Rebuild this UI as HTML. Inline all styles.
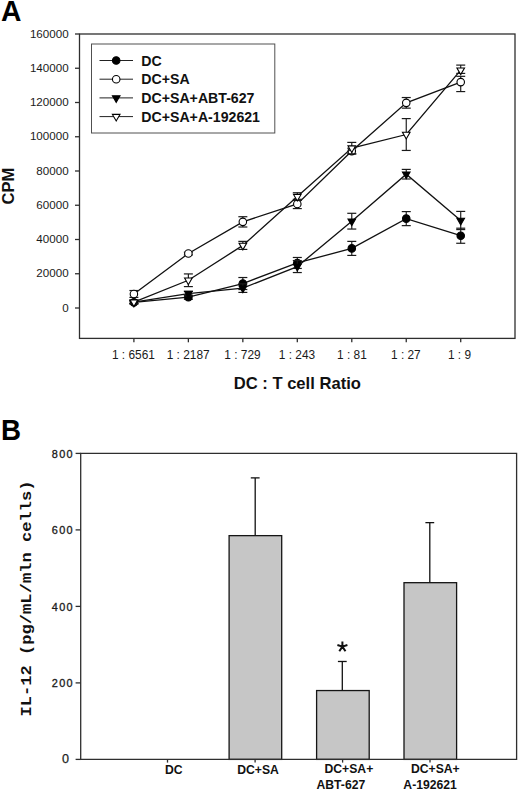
<!DOCTYPE html>
<html><head><meta charset="utf-8"><title>Figure</title>
<style>
html,body{margin:0;padding:0;background:#fff;}
body{width:520px;height:791px;overflow:hidden;}
svg{display:block;}
text{font-family:"Liberation Sans",sans-serif;fill:#111;}
.ta{font-size:11.6px;fill:#1a1a1a;}
.tx{font-size:11.9px;fill:#1a1a1a;}
.lg{font-size:14.15px;font-weight:bold;}
.pl{font-size:28px;font-weight:bold;fill:#000;}
.xt{font-size:16.6px;font-weight:bold;}
.yt{font-size:16.5px;font-weight:bold;}
.bl{font-size:12.2px;font-weight:bold;}
.tm{font-size:10.9px;letter-spacing:1.3px;fill:#1a1a1a;stroke:#1a1a1a;stroke-width:0.3px;}
.my{font-family:"Liberation Mono",monospace;font-size:17.1px;font-weight:bold;}
.t0{font-size:12.6px;fill:#222;stroke:#222;stroke-width:0.25px;}
.as{font-size:28px;font-weight:normal;stroke:#111;stroke-width:0.5px;}
</style></head>
<body>
<svg width="520" height="791" viewBox="0 0 520 791">
<rect width="520" height="791" fill="#fff"/>
<rect x="79.5" y="34.0" width="435.5" height="304.4" fill="none" stroke="#2e2e2e" stroke-width="1.3"/>
<line x1="75" y1="308.00" x2="79.5" y2="308.00" stroke="#2e2e2e" stroke-width="1.3"/>
<text x="68.6" y="311.70" text-anchor="end" class="ta">0</text>
<line x1="75" y1="273.75" x2="79.5" y2="273.75" stroke="#2e2e2e" stroke-width="1.3"/>
<text x="68.6" y="277.45" text-anchor="end" class="ta">20000</text>
<line x1="75" y1="239.50" x2="79.5" y2="239.50" stroke="#2e2e2e" stroke-width="1.3"/>
<text x="68.6" y="243.20" text-anchor="end" class="ta">40000</text>
<line x1="75" y1="205.25" x2="79.5" y2="205.25" stroke="#2e2e2e" stroke-width="1.3"/>
<text x="68.6" y="208.95" text-anchor="end" class="ta">60000</text>
<line x1="75" y1="171.00" x2="79.5" y2="171.00" stroke="#2e2e2e" stroke-width="1.3"/>
<text x="68.6" y="174.70" text-anchor="end" class="ta">80000</text>
<line x1="75" y1="136.75" x2="79.5" y2="136.75" stroke="#2e2e2e" stroke-width="1.3"/>
<text x="68.6" y="140.45" text-anchor="end" class="ta">100000</text>
<line x1="75" y1="102.50" x2="79.5" y2="102.50" stroke="#2e2e2e" stroke-width="1.3"/>
<text x="68.6" y="106.20" text-anchor="end" class="ta">120000</text>
<line x1="75" y1="68.25" x2="79.5" y2="68.25" stroke="#2e2e2e" stroke-width="1.3"/>
<text x="68.6" y="71.95" text-anchor="end" class="ta">140000</text>
<line x1="75" y1="34.00" x2="79.5" y2="34.00" stroke="#2e2e2e" stroke-width="1.3"/>
<text x="68.6" y="37.70" text-anchor="end" class="ta">160000</text>
<line x1="133.90" y1="338.4" x2="133.90" y2="342.3" stroke="#2e2e2e" stroke-width="1.3"/>
<text x="133.40" y="359.4" text-anchor="middle" class="tx">1 : 6561</text>
<line x1="188.37" y1="338.4" x2="188.37" y2="342.3" stroke="#2e2e2e" stroke-width="1.3"/>
<text x="188.17" y="359.4" text-anchor="middle" class="tx">1 : 2187</text>
<line x1="242.84" y1="338.4" x2="242.84" y2="342.3" stroke="#2e2e2e" stroke-width="1.3"/>
<text x="242.44" y="359.4" text-anchor="middle" class="tx">1 : 729</text>
<line x1="297.31" y1="338.4" x2="297.31" y2="342.3" stroke="#2e2e2e" stroke-width="1.3"/>
<text x="297.01" y="359.4" text-anchor="middle" class="tx">1 : 243</text>
<line x1="351.78" y1="338.4" x2="351.78" y2="342.3" stroke="#2e2e2e" stroke-width="1.3"/>
<text x="351.88" y="359.4" text-anchor="middle" class="tx">1 : 81</text>
<line x1="406.25" y1="338.4" x2="406.25" y2="342.3" stroke="#2e2e2e" stroke-width="1.3"/>
<text x="405.85" y="359.4" text-anchor="middle" class="tx">1 : 27</text>
<line x1="460.72" y1="338.4" x2="460.72" y2="342.3" stroke="#2e2e2e" stroke-width="1.3"/>
<text x="459.52" y="359.4" text-anchor="middle" class="tx">1 : 9</text>
<polyline points="133.90,302.35 188.37,297.21 242.84,283.51 297.31,262.96 351.78,248.41 406.25,218.61 460.72,235.73" fill="none" stroke="#111" stroke-width="1.3"/>
<line x1="133.90" y1="300.81" x2="133.90" y2="303.89" stroke="#1a1a1a" stroke-width="1.15"/>
<line x1="129.40" y1="300.81" x2="138.40" y2="300.81" stroke="#1a1a1a" stroke-width="1.2"/>
<line x1="129.40" y1="303.89" x2="138.40" y2="303.89" stroke="#1a1a1a" stroke-width="1.2"/>
<line x1="188.37" y1="295.16" x2="188.37" y2="299.27" stroke="#1a1a1a" stroke-width="1.15"/>
<line x1="183.87" y1="295.16" x2="192.87" y2="295.16" stroke="#1a1a1a" stroke-width="1.2"/>
<line x1="183.87" y1="299.27" x2="192.87" y2="299.27" stroke="#1a1a1a" stroke-width="1.2"/>
<line x1="242.84" y1="277.52" x2="242.84" y2="289.50" stroke="#1a1a1a" stroke-width="1.15"/>
<line x1="238.34" y1="277.52" x2="247.34" y2="277.52" stroke="#1a1a1a" stroke-width="1.2"/>
<line x1="238.34" y1="289.50" x2="247.34" y2="289.50" stroke="#1a1a1a" stroke-width="1.2"/>
<line x1="297.31" y1="257.48" x2="297.31" y2="268.44" stroke="#1a1a1a" stroke-width="1.15"/>
<line x1="292.81" y1="257.48" x2="301.81" y2="257.48" stroke="#1a1a1a" stroke-width="1.2"/>
<line x1="292.81" y1="268.44" x2="301.81" y2="268.44" stroke="#1a1a1a" stroke-width="1.2"/>
<line x1="351.78" y1="241.38" x2="351.78" y2="255.43" stroke="#1a1a1a" stroke-width="1.15"/>
<line x1="347.28" y1="241.38" x2="356.28" y2="241.38" stroke="#1a1a1a" stroke-width="1.2"/>
<line x1="347.28" y1="255.43" x2="356.28" y2="255.43" stroke="#1a1a1a" stroke-width="1.2"/>
<line x1="406.25" y1="211.59" x2="406.25" y2="225.63" stroke="#1a1a1a" stroke-width="1.15"/>
<line x1="401.75" y1="211.59" x2="410.75" y2="211.59" stroke="#1a1a1a" stroke-width="1.2"/>
<line x1="401.75" y1="225.63" x2="410.75" y2="225.63" stroke="#1a1a1a" stroke-width="1.2"/>
<line x1="460.72" y1="228.20" x2="460.72" y2="243.27" stroke="#1a1a1a" stroke-width="1.15"/>
<line x1="456.22" y1="228.20" x2="465.22" y2="228.20" stroke="#1a1a1a" stroke-width="1.2"/>
<line x1="456.22" y1="243.27" x2="465.22" y2="243.27" stroke="#1a1a1a" stroke-width="1.2"/>
<circle cx="133.90" cy="302.35" r="3.75" fill="#000" stroke="#000" stroke-width="1.1"/>
<circle cx="188.37" cy="297.21" r="3.75" fill="#000" stroke="#000" stroke-width="1.1"/>
<circle cx="242.84" cy="283.51" r="3.75" fill="#000" stroke="#000" stroke-width="1.1"/>
<circle cx="297.31" cy="262.96" r="3.75" fill="#000" stroke="#000" stroke-width="1.1"/>
<circle cx="351.78" cy="248.41" r="3.75" fill="#000" stroke="#000" stroke-width="1.1"/>
<circle cx="406.25" cy="218.61" r="3.75" fill="#000" stroke="#000" stroke-width="1.1"/>
<circle cx="460.72" cy="235.73" r="3.75" fill="#000" stroke="#000" stroke-width="1.1"/>
<polyline points="133.90,293.96 188.37,253.54 242.84,221.86 297.31,203.95 351.78,151.10 406.25,102.84 460.72,82.12" fill="none" stroke="#111" stroke-width="1.3"/>
<line x1="133.90" y1="290.53" x2="133.90" y2="297.38" stroke="#1a1a1a" stroke-width="1.15"/>
<line x1="129.40" y1="290.53" x2="138.40" y2="290.53" stroke="#1a1a1a" stroke-width="1.2"/>
<line x1="129.40" y1="297.38" x2="138.40" y2="297.38" stroke="#1a1a1a" stroke-width="1.2"/>
<line x1="188.37" y1="252.17" x2="188.37" y2="254.91" stroke="#1a1a1a" stroke-width="1.15"/>
<line x1="183.87" y1="252.17" x2="192.87" y2="252.17" stroke="#1a1a1a" stroke-width="1.2"/>
<line x1="183.87" y1="254.91" x2="192.87" y2="254.91" stroke="#1a1a1a" stroke-width="1.2"/>
<line x1="242.84" y1="216.72" x2="242.84" y2="227.00" stroke="#1a1a1a" stroke-width="1.15"/>
<line x1="238.34" y1="216.72" x2="247.34" y2="216.72" stroke="#1a1a1a" stroke-width="1.2"/>
<line x1="238.34" y1="227.00" x2="247.34" y2="227.00" stroke="#1a1a1a" stroke-width="1.2"/>
<line x1="297.31" y1="199.32" x2="297.31" y2="208.57" stroke="#1a1a1a" stroke-width="1.15"/>
<line x1="292.81" y1="199.32" x2="301.81" y2="199.32" stroke="#1a1a1a" stroke-width="1.2"/>
<line x1="292.81" y1="208.57" x2="301.81" y2="208.57" stroke="#1a1a1a" stroke-width="1.2"/>
<line x1="351.78" y1="148.19" x2="351.78" y2="154.01" stroke="#1a1a1a" stroke-width="1.15"/>
<line x1="347.28" y1="148.19" x2="356.28" y2="148.19" stroke="#1a1a1a" stroke-width="1.2"/>
<line x1="347.28" y1="154.01" x2="356.28" y2="154.01" stroke="#1a1a1a" stroke-width="1.2"/>
<line x1="406.25" y1="97.53" x2="406.25" y2="108.15" stroke="#1a1a1a" stroke-width="1.15"/>
<line x1="401.75" y1="97.53" x2="410.75" y2="97.53" stroke="#1a1a1a" stroke-width="1.2"/>
<line x1="401.75" y1="108.15" x2="410.75" y2="108.15" stroke="#1a1a1a" stroke-width="1.2"/>
<line x1="460.72" y1="76.32" x2="460.72" y2="91.57" stroke="#1a1a1a" stroke-width="1.15"/>
<line x1="456.22" y1="76.32" x2="465.22" y2="76.32" stroke="#1a1a1a" stroke-width="1.2"/>
<line x1="456.22" y1="91.57" x2="465.22" y2="91.57" stroke="#1a1a1a" stroke-width="1.2"/>
<circle cx="133.90" cy="293.96" r="3.75" fill="#fff" stroke="#000" stroke-width="1.1"/>
<circle cx="188.37" cy="253.54" r="3.75" fill="#fff" stroke="#000" stroke-width="1.1"/>
<circle cx="242.84" cy="221.86" r="3.75" fill="#fff" stroke="#000" stroke-width="1.1"/>
<circle cx="297.31" cy="203.95" r="3.75" fill="#fff" stroke="#000" stroke-width="1.1"/>
<circle cx="351.78" cy="151.10" r="3.75" fill="#fff" stroke="#000" stroke-width="1.1"/>
<circle cx="406.25" cy="102.84" r="3.75" fill="#fff" stroke="#000" stroke-width="1.1"/>
<circle cx="460.72" cy="82.12" r="3.75" fill="#fff" stroke="#000" stroke-width="1.1"/>
<polyline points="133.90,302.18 188.37,293.62 242.84,288.13 297.31,266.56 351.78,221.18 406.25,174.20 460.72,220.49" fill="none" stroke="#111" stroke-width="1.3"/>
<line x1="133.90" y1="300.81" x2="133.90" y2="303.55" stroke="#1a1a1a" stroke-width="1.15"/>
<line x1="129.40" y1="300.81" x2="138.40" y2="300.81" stroke="#1a1a1a" stroke-width="1.2"/>
<line x1="129.40" y1="303.55" x2="138.40" y2="303.55" stroke="#1a1a1a" stroke-width="1.2"/>
<line x1="188.37" y1="291.39" x2="188.37" y2="295.84" stroke="#1a1a1a" stroke-width="1.15"/>
<line x1="183.87" y1="291.39" x2="192.87" y2="291.39" stroke="#1a1a1a" stroke-width="1.2"/>
<line x1="183.87" y1="295.84" x2="192.87" y2="295.84" stroke="#1a1a1a" stroke-width="1.2"/>
<line x1="242.84" y1="283.85" x2="242.84" y2="292.42" stroke="#1a1a1a" stroke-width="1.15"/>
<line x1="238.34" y1="283.85" x2="247.34" y2="283.85" stroke="#1a1a1a" stroke-width="1.2"/>
<line x1="238.34" y1="292.42" x2="247.34" y2="292.42" stroke="#1a1a1a" stroke-width="1.2"/>
<line x1="297.31" y1="260.56" x2="297.31" y2="272.55" stroke="#1a1a1a" stroke-width="1.15"/>
<line x1="292.81" y1="260.56" x2="301.81" y2="260.56" stroke="#1a1a1a" stroke-width="1.2"/>
<line x1="292.81" y1="272.55" x2="301.81" y2="272.55" stroke="#1a1a1a" stroke-width="1.2"/>
<line x1="351.78" y1="213.30" x2="351.78" y2="229.05" stroke="#1a1a1a" stroke-width="1.15"/>
<line x1="347.28" y1="213.30" x2="356.28" y2="213.30" stroke="#1a1a1a" stroke-width="1.2"/>
<line x1="347.28" y1="229.05" x2="356.28" y2="229.05" stroke="#1a1a1a" stroke-width="1.2"/>
<line x1="406.25" y1="169.41" x2="406.25" y2="179.00" stroke="#1a1a1a" stroke-width="1.15"/>
<line x1="401.75" y1="169.41" x2="410.75" y2="169.41" stroke="#1a1a1a" stroke-width="1.2"/>
<line x1="401.75" y1="179.00" x2="410.75" y2="179.00" stroke="#1a1a1a" stroke-width="1.2"/>
<line x1="460.72" y1="211.41" x2="460.72" y2="229.57" stroke="#1a1a1a" stroke-width="1.15"/>
<line x1="456.22" y1="211.41" x2="465.22" y2="211.41" stroke="#1a1a1a" stroke-width="1.2"/>
<line x1="456.22" y1="229.57" x2="465.22" y2="229.57" stroke="#1a1a1a" stroke-width="1.2"/>
<polygon points="130.10,299.98 137.70,299.98 133.90,306.58" fill="#000" stroke="#000" stroke-width="1.1" stroke-linejoin="miter"/>
<polygon points="184.57,291.42 192.17,291.42 188.37,298.01" fill="#000" stroke="#000" stroke-width="1.1" stroke-linejoin="miter"/>
<polygon points="239.04,285.94 246.64,285.94 242.84,292.53" fill="#000" stroke="#000" stroke-width="1.1" stroke-linejoin="miter"/>
<polygon points="293.51,264.36 301.11,264.36 297.31,270.96" fill="#000" stroke="#000" stroke-width="1.1" stroke-linejoin="miter"/>
<polygon points="347.98,218.98 355.58,218.98 351.78,225.58" fill="#000" stroke="#000" stroke-width="1.1" stroke-linejoin="miter"/>
<polygon points="402.45,172.00 410.05,172.00 406.25,178.60" fill="#000" stroke="#000" stroke-width="1.1" stroke-linejoin="miter"/>
<polygon points="456.92,218.29 464.52,218.29 460.72,224.89" fill="#000" stroke="#000" stroke-width="1.1" stroke-linejoin="miter"/>
<polyline points="133.90,302.18 188.37,280.26 242.84,245.41 297.31,196.60 351.78,148.10 406.25,134.52 460.72,70.20" fill="none" stroke="#111" stroke-width="1.3"/>
<line x1="133.90" y1="300.64" x2="133.90" y2="303.72" stroke="#1a1a1a" stroke-width="1.15"/>
<line x1="129.40" y1="300.64" x2="138.40" y2="300.64" stroke="#1a1a1a" stroke-width="1.2"/>
<line x1="129.40" y1="303.72" x2="138.40" y2="303.72" stroke="#1a1a1a" stroke-width="1.2"/>
<line x1="188.37" y1="273.92" x2="188.37" y2="286.59" stroke="#1a1a1a" stroke-width="1.15"/>
<line x1="183.87" y1="273.92" x2="192.87" y2="273.92" stroke="#1a1a1a" stroke-width="1.2"/>
<line x1="183.87" y1="286.59" x2="192.87" y2="286.59" stroke="#1a1a1a" stroke-width="1.2"/>
<line x1="242.84" y1="241.38" x2="242.84" y2="249.43" stroke="#1a1a1a" stroke-width="1.15"/>
<line x1="238.34" y1="241.38" x2="247.34" y2="241.38" stroke="#1a1a1a" stroke-width="1.2"/>
<line x1="238.34" y1="249.43" x2="247.34" y2="249.43" stroke="#1a1a1a" stroke-width="1.2"/>
<line x1="297.31" y1="192.75" x2="297.31" y2="200.45" stroke="#1a1a1a" stroke-width="1.15"/>
<line x1="292.81" y1="192.75" x2="301.81" y2="192.75" stroke="#1a1a1a" stroke-width="1.2"/>
<line x1="292.81" y1="200.45" x2="301.81" y2="200.45" stroke="#1a1a1a" stroke-width="1.2"/>
<line x1="351.78" y1="142.40" x2="351.78" y2="153.81" stroke="#1a1a1a" stroke-width="1.15"/>
<line x1="347.28" y1="142.40" x2="356.28" y2="142.40" stroke="#1a1a1a" stroke-width="1.2"/>
<line x1="347.28" y1="153.81" x2="356.28" y2="153.81" stroke="#1a1a1a" stroke-width="1.2"/>
<line x1="406.25" y1="118.60" x2="406.25" y2="150.45" stroke="#1a1a1a" stroke-width="1.15"/>
<line x1="401.75" y1="118.60" x2="410.75" y2="118.60" stroke="#1a1a1a" stroke-width="1.2"/>
<line x1="401.75" y1="150.45" x2="410.75" y2="150.45" stroke="#1a1a1a" stroke-width="1.2"/>
<line x1="460.72" y1="65.10" x2="460.72" y2="73.40" stroke="#1a1a1a" stroke-width="1.15"/>
<line x1="456.22" y1="65.10" x2="465.22" y2="65.10" stroke="#1a1a1a" stroke-width="1.2"/>
<line x1="456.22" y1="73.40" x2="465.22" y2="73.40" stroke="#1a1a1a" stroke-width="1.2"/>
<polygon points="130.10,299.98 137.70,299.98 133.90,306.58" fill="#fff" stroke="#000" stroke-width="1.1" stroke-linejoin="miter"/>
<polygon points="184.57,278.06 192.17,278.06 188.37,284.66" fill="#fff" stroke="#000" stroke-width="1.1" stroke-linejoin="miter"/>
<polygon points="239.04,243.21 246.64,243.21 242.84,249.81" fill="#fff" stroke="#000" stroke-width="1.1" stroke-linejoin="miter"/>
<polygon points="293.51,194.40 301.11,194.40 297.31,201.00" fill="#fff" stroke="#000" stroke-width="1.1" stroke-linejoin="miter"/>
<polygon points="347.98,145.90 355.58,145.90 351.78,152.50" fill="#fff" stroke="#000" stroke-width="1.1" stroke-linejoin="miter"/>
<polygon points="402.45,132.32 410.05,132.32 406.25,138.92" fill="#fff" stroke="#000" stroke-width="1.1" stroke-linejoin="miter"/>
<polygon points="456.92,68.00 464.52,68.00 460.72,74.60" fill="#fff" stroke="#000" stroke-width="1.1" stroke-linejoin="miter"/>
<rect x="91.5" y="44" width="183.3" height="89" fill="#fff" stroke="#505050" stroke-width="1.0"/>
<line x1="99.5" y1="60.5" x2="133" y2="60.5" stroke="#222" stroke-width="1.0"/>
<circle cx="116.20" cy="60.50" r="3.75" fill="#000" stroke="#000" stroke-width="1.1"/>
<text x="141.3" y="65.5" class="lg">DC</text>
<line x1="99.5" y1="79.2" x2="133" y2="79.2" stroke="#222" stroke-width="1.0"/>
<circle cx="116.20" cy="79.20" r="3.75" fill="#fff" stroke="#000" stroke-width="1.1"/>
<text x="141.3" y="84.2" class="lg">DC+SA</text>
<line x1="99.5" y1="97.9" x2="133" y2="97.9" stroke="#222" stroke-width="1.0"/>
<polygon points="112.40,95.70 120.00,95.70 116.20,102.30" fill="#000" stroke="#000" stroke-width="1.1" stroke-linejoin="miter"/>
<text x="141.3" y="102.9" class="lg">DC+SA+ABT-627</text>
<line x1="99.5" y1="116.6" x2="133" y2="116.6" stroke="#222" stroke-width="1.0"/>
<polygon points="112.40,114.40 120.00,114.40 116.20,121.00" fill="#fff" stroke="#000" stroke-width="1.1" stroke-linejoin="miter"/>
<text x="141.3" y="121.6" class="lg">DC+SA+A-192621</text>
<text transform="translate(1.0,21.1) scale(0.975,1)" class="pl" style="font-size:29px">A</text>
<text x="297.3" y="389.1" text-anchor="middle" class="xt">DC : T cell Ratio</text>
<text transform="translate(14.2,186.2) rotate(-90)" text-anchor="middle" class="yt">CPM</text>
<line x1="255.20" y1="477.88" x2="255.20" y2="535.64" stroke="#111" stroke-width="1.3"/>
<line x1="250.80" y1="477.88" x2="259.60" y2="477.88" stroke="#111" stroke-width="1.3"/>
<rect x="229.10" y="535.64" width="52.6" height="223.76" fill="#c6c6c6" stroke="#151515" stroke-width="1.3"/>
<line x1="342.30" y1="661.48" x2="342.30" y2="690.55" stroke="#111" stroke-width="1.3"/>
<line x1="337.90" y1="661.48" x2="346.70" y2="661.48" stroke="#111" stroke-width="1.3"/>
<rect x="316.60" y="690.55" width="52.6" height="68.85" fill="#c6c6c6" stroke="#151515" stroke-width="1.3"/>
<line x1="429.80" y1="522.63" x2="429.80" y2="582.68" stroke="#111" stroke-width="1.3"/>
<line x1="425.40" y1="522.63" x2="434.20" y2="522.63" stroke="#111" stroke-width="1.3"/>
<rect x="404.00" y="582.68" width="52.6" height="176.72" fill="#c6c6c6" stroke="#151515" stroke-width="1.3"/>
<path d="M80.7,453.4 H516.6 V759.4 H80.7 Z" fill="none" stroke="#2e2e2e" stroke-width="1.3"/>
<line x1="75.6" y1="759.40" x2="80.7" y2="759.40" stroke="#2e2e2e" stroke-width="1.3"/>
<text x="68.9" y="762.80" text-anchor="end" class="t0">0</text>
<line x1="75.6" y1="682.90" x2="80.7" y2="682.90" stroke="#2e2e2e" stroke-width="1.3"/>
<text x="73.9" y="687.10" text-anchor="end" class="tm">200</text>
<line x1="75.6" y1="606.40" x2="80.7" y2="606.40" stroke="#2e2e2e" stroke-width="1.3"/>
<text x="73.9" y="610.60" text-anchor="end" class="tm">400</text>
<line x1="75.6" y1="529.90" x2="80.7" y2="529.90" stroke="#2e2e2e" stroke-width="1.3"/>
<text x="73.9" y="534.10" text-anchor="end" class="tm">600</text>
<line x1="75.6" y1="453.40" x2="80.7" y2="453.40" stroke="#2e2e2e" stroke-width="1.3"/>
<text x="73.9" y="457.60" text-anchor="end" class="tm">800</text>
<line x1="167.50" y1="759.4" x2="167.50" y2="762.6" stroke="#2e2e2e" stroke-width="1.3"/>
<line x1="255.10" y1="759.4" x2="255.10" y2="762.6" stroke="#2e2e2e" stroke-width="1.3"/>
<line x1="342.60" y1="759.4" x2="342.60" y2="762.6" stroke="#2e2e2e" stroke-width="1.3"/>
<line x1="430.00" y1="759.4" x2="430.00" y2="762.6" stroke="#2e2e2e" stroke-width="1.3"/>
<text x="173.8" y="774.3" text-anchor="middle" class="bl">DC</text>
<text x="258.0" y="774.3" text-anchor="middle" class="bl">DC+SA</text>
<text x="348.9" y="773.3" text-anchor="middle" class="bl">DC+SA+</text>
<text x="340.9" y="788.5" text-anchor="middle" class="bl">ABT-627</text>
<text x="435.3" y="773.3" text-anchor="middle" class="bl">DC+SA+</text>
<text x="430.1" y="788.5" text-anchor="middle" class="bl">A-192621</text>
<path d="M342.4,646.6 L342.4,641.4 M342.4,646.6 L337.4,645.0 M342.4,646.6 L347.4,645.0 M342.4,646.6 L339.3,651.2 M342.4,646.6 L345.5,651.2" stroke="#111" stroke-width="2.0" fill="none" stroke-linecap="butt"/>
<text transform="translate(0.9,440.0) scale(0.94,1)" class="pl" style="font-size:29.5px">B</text>
<text transform="translate(31.2,598.5) rotate(-90) scale(1,0.86)" text-anchor="middle" class="my">IL-12 (pg/mL/mln cells)</text>
</svg>
</body></html>
